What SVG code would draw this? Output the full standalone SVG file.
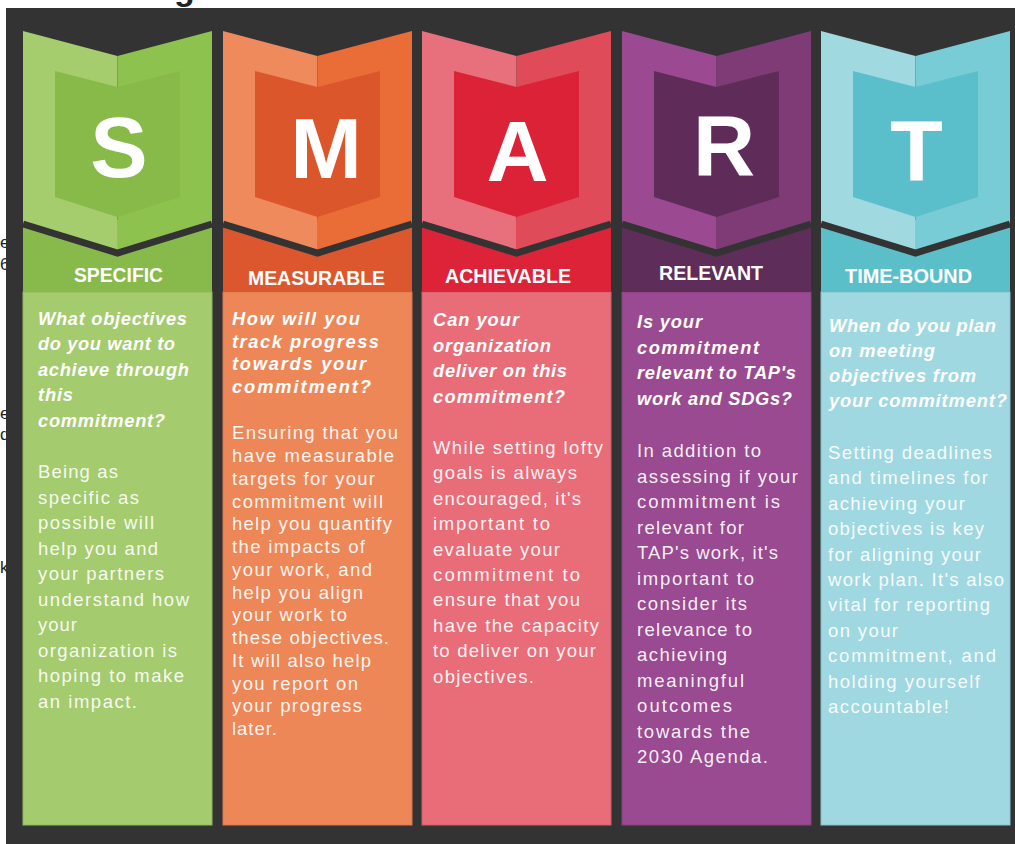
<svg xmlns="http://www.w3.org/2000/svg" width="1015" height="844" viewBox="0 0 1015 844">
<style>
.frag{font-family:"Liberation Sans",Arial,sans-serif;font-size:17px;fill:#222}
.big{font-family:"Liberation Sans",Arial,sans-serif;font-weight:bold;font-size:86px;fill:#fff;text-anchor:middle}
.lbl{font-family:"Liberation Sans",Arial,sans-serif;font-weight:bold;font-size:20px;fill:#fff;text-anchor:middle}
.q{font-family:"Liberation Sans",Arial,sans-serif;font-weight:bold;font-style:italic;font-size:18.3px;fill:#fff}
.b{font-family:"Liberation Sans",Arial,sans-serif;font-size:18.5px;fill:#fff;fill-opacity:0.93}
.sep{fill:none;stroke:#333333;stroke-width:7;stroke-linejoin:miter}
</style>
<rect x="0" y="0" width="1015" height="844" fill="#ffffff"/>
<g id="fragments">
<text class="frag" x="0" y="248">e</text>
<text class="frag" x="0" y="270">6</text>
<text class="frag" x="0" y="419">e</text>
<text class="frag" x="0" y="440">d</text>
<text class="frag" x="0" y="573">k</text>
<text class="frag" x="174" y="0" style="font-size:34px;font-weight:bold">g</text>
</g>
<rect x="6" y="8" width="1009" height="836" fill="#333333"/>

<g id="col-s">
<rect x="23" y="292" width="189" height="533" fill="#a4cb6d" stroke="#93b95e" stroke-width="1"/>
<rect x="23" y="220" width="189" height="72" fill="#88b94b"/>
<polygon points="23,31 117.5,56 117.5,253 23,224" fill="#a5cd6d"/>
<polygon points="117.5,56 212,31 212,224 117.5,253" fill="#8dc24f"/>
<polygon points="55,71 117.5,87 180,71 180,197 117.5,217 55,197" fill="#88ba4a"/>
<polyline class="sep" points="23,224 117.5,253 212,224"/>
<text class="big" x="119" y="177">S</text>
<text class="lbl" x="118.5" y="282" textLength="89" lengthAdjust="spacingAndGlyphs">SPECIFIC</text>
<text class="q" x="38" y="324.5" textLength="149">What objectives</text>
<text class="q" x="38" y="350" textLength="137">do you want to</text>
<text class="q" x="38" y="375.5" textLength="151">achieve through</text>
<text class="q" x="38" y="401" textLength="35">this</text>
<text class="q" x="38" y="426.5" textLength="127">commitment?</text>
<text class="b" x="38" y="478" textLength="80">Being as</text>
<text class="b" x="38" y="503.5" textLength="101">specific as</text>
<text class="b" x="38" y="529" textLength="116">possible will</text>
<text class="b" x="38" y="554.5" textLength="120">help you and</text>
<text class="b" x="38" y="580" textLength="126">your partners</text>
<text class="b" x="38" y="605.5" textLength="151">understand how</text>
<text class="b" x="38" y="631" textLength="39">your</text>
<text class="b" x="38" y="656.5" textLength="139">organization is</text>
<text class="b" x="38" y="682" textLength="146">hoping to make</text>
<text class="b" x="38" y="707.5" textLength="99">an impact.</text>
</g>

<g id="col-m">
<rect x="223" y="292" width="189" height="533" fill="#ee8758" stroke="#d9784c" stroke-width="1"/>
<rect x="223" y="220" width="189" height="72" fill="#dc572d"/>
<polygon points="223,31 317.5,56 317.5,253 223,224" fill="#ee8a5c"/>
<polygon points="317.5,56 412,31 412,224 317.5,253" fill="#ea6d37"/>
<polygon points="255,71 317.5,87 380,71 380,197 317.5,217 255,197" fill="#dc562c"/>
<polyline class="sep" points="223,224 317.5,253 412,224"/>
<text class="big" x="326" y="178">M</text>
<text class="lbl" x="316.5" y="285" textLength="137" lengthAdjust="spacingAndGlyphs">MEASURABLE</text>
<text class="q" x="232" y="325" textLength="128">How will you</text>
<text class="q" x="232" y="347.5" textLength="147">track progress</text>
<text class="q" x="232" y="370" textLength="134">towards your</text>
<text class="q" x="232" y="393" textLength="139">commitment?</text>
<text class="b" x="232" y="439.3" textLength="166">Ensuring that you</text>
<text class="b" x="232" y="462" textLength="162">have measurable</text>
<text class="b" x="232" y="484.8" textLength="143">targets for your</text>
<text class="b" x="232" y="507.5" textLength="151">commitment will</text>
<text class="b" x="232" y="530.3" textLength="160">help you quantify</text>
<text class="b" x="232" y="553" textLength="133">the impacts of</text>
<text class="b" x="232" y="575.8" textLength="140">your work, and</text>
<text class="b" x="232" y="598.5" textLength="131">help you align</text>
<text class="b" x="232" y="621.3" textLength="115">your work to</text>
<text class="b" x="232" y="644" textLength="157">these objectives.</text>
<text class="b" x="232" y="666.8" textLength="139">It will also help</text>
<text class="b" x="232" y="689.5" textLength="126">you report on</text>
<text class="b" x="232" y="712.3" textLength="130">your progress</text>
<text class="b" x="232" y="735" textLength="45">later.</text>
</g>

<g id="col-a">
<rect x="422" y="292" width="189" height="533" fill="#e86d79" stroke="#d15f6a" stroke-width="1"/>
<rect x="422" y="220" width="189" height="72" fill="#dc2337"/>
<polygon points="422,31 516.5,56 516.5,253 422,224" fill="#e8707c"/>
<polygon points="516.5,56 611,31 611,224 516.5,253" fill="#e04b59"/>
<polygon points="454,71 516.5,87 579,71 579,197 516.5,217 454,197" fill="#dc2237"/>
<polyline class="sep" points="422,224 516.5,253 611,224"/>
<text class="big" x="517.5" y="181">A</text>
<text class="lbl" x="508" y="283" textLength="126" lengthAdjust="spacingAndGlyphs">ACHIEVABLE</text>
<text class="q" x="433" y="326" textLength="86">Can your</text>
<text class="q" x="433" y="351.5" textLength="118">organization</text>
<text class="q" x="433" y="377" textLength="134">deliver on this</text>
<text class="q" x="433" y="402.5" textLength="132">commitment?</text>
<text class="b" x="433" y="454" textLength="170">While setting lofty</text>
<text class="b" x="433" y="479.4" textLength="144">goals is always</text>
<text class="b" x="433" y="504.8" textLength="148">encouraged, it's</text>
<text class="b" x="433" y="530.2" textLength="117">important to</text>
<text class="b" x="433" y="555.6" textLength="127">evaluate your</text>
<text class="b" x="433" y="581" textLength="147">commitment to</text>
<text class="b" x="433" y="606.4" textLength="147">ensure that you</text>
<text class="b" x="433" y="631.8" textLength="166">have the capacity</text>
<text class="b" x="433" y="657.2" textLength="163">to deliver on your</text>
<text class="b" x="433" y="682.6" textLength="101">objectives.</text>
</g>

<g id="col-r">
<rect x="622" y="292" width="189" height="533" fill="#9a4a90" stroke="#874181" stroke-width="1"/>
<rect x="622" y="220" width="189" height="72" fill="#5e2d5a"/>
<polygon points="622,31 716.5,56 716.5,253 622,224" fill="#9b4a91"/>
<polygon points="716.5,56 811,31 811,224 716.5,253" fill="#7e3b76"/>
<polygon points="654,71 716.5,87 779,71 779,197 716.5,217 654,197" fill="#5f2c59"/>
<polyline class="sep" points="622,224 716.5,253 811,224"/>
<text class="big" x="724" y="175">R</text>
<text class="lbl" x="711" y="280" textLength="104" lengthAdjust="spacingAndGlyphs">RELEVANT</text>
<text class="q" x="637" y="328" textLength="65">Is your</text>
<text class="q" x="637" y="353.5" textLength="122">commitment</text>
<text class="q" x="637" y="379" textLength="159">relevant to TAP's</text>
<text class="q" x="637" y="404.5" textLength="155">work and SDGs?</text>
<text class="b" x="637" y="457" textLength="124">In addition to</text>
<text class="b" x="637" y="482.5" textLength="161">assessing if your</text>
<text class="b" x="637" y="508" textLength="143">commitment is</text>
<text class="b" x="637" y="533.5" textLength="107">relevant for</text>
<text class="b" x="637" y="559" textLength="141">TAP's work, it's</text>
<text class="b" x="637" y="584.5" textLength="117">important to</text>
<text class="b" x="637" y="610" textLength="110">consider its</text>
<text class="b" x="637" y="635.5" textLength="115">relevance to</text>
<text class="b" x="637" y="661" textLength="90">achieving</text>
<text class="b" x="637" y="686.5" textLength="107">meaningful</text>
<text class="b" x="637" y="712" textLength="95">outcomes</text>
<text class="b" x="637" y="737.5" textLength="113">towards the</text>
<text class="b" x="637" y="763" textLength="131">2030 Agenda.</text>
</g>

<g id="col-t">
<rect x="821" y="292" width="189" height="533" fill="#9fd8e0" stroke="#86c2cb" stroke-width="1"/>
<rect x="821" y="220" width="189" height="72" fill="#5bbfca"/>
<polygon points="821,31 915.5,56 915.5,253 821,224" fill="#a1d9e0"/>
<polygon points="915.5,56 1010,31 1010,224 915.5,253" fill="#77ccd6"/>
<polygon points="853,71 915.5,87 978,71 978,197 915.5,217 853,197" fill="#5bbfcb"/>
<polyline class="sep" points="821,224 915.5,253 1010,224"/>
<text class="big" x="916.5" y="180">T</text>
<text class="lbl" x="908.5" y="283" textLength="127" lengthAdjust="spacingAndGlyphs">TIME-BOUND</text>
<text class="q" x="829" y="331.5" textLength="167">When do you plan</text>
<text class="q" x="829" y="356.5" textLength="106">on meeting</text>
<text class="q" x="829" y="381.5" textLength="147">objectives from</text>
<text class="q" x="829" y="406.5" textLength="178">your commitment?</text>
<text class="b" x="828" y="459" textLength="164">Setting deadlines</text>
<text class="b" x="828" y="484.4" textLength="160">and timelines for</text>
<text class="b" x="828" y="509.8" textLength="137">achieving your</text>
<text class="b" x="828" y="535.2" textLength="156">objectives is key</text>
<text class="b" x="828" y="560.6" textLength="153">for aligning your</text>
<text class="b" x="828" y="586" textLength="176">work plan. It's also</text>
<text class="b" x="828" y="611.4" textLength="162">vital for reporting</text>
<text class="b" x="828" y="636.8" textLength="70">on your</text>
<text class="b" x="828" y="662.2" textLength="168">commitment, and</text>
<text class="b" x="828" y="687.6" textLength="152">holding yourself</text>
<text class="b" x="828" y="713" textLength="121">accountable!</text>
</g>
</svg>
